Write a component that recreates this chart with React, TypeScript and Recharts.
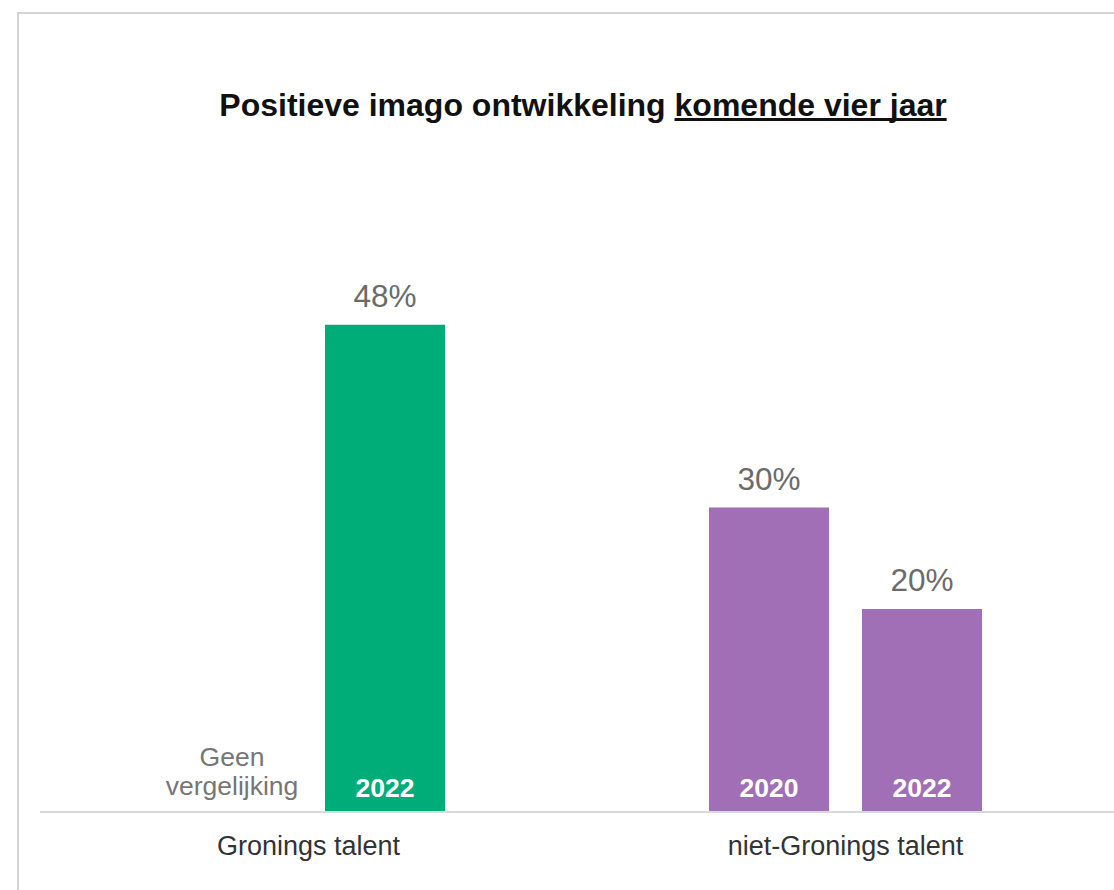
import React from 'react';
import { BarChart, Bar, XAxis, YAxis, Cell, LabelList } from 'recharts';

// categories and values (percent)
const categories = ['Gronings talent', 'niet-Gronings talent'];
const firstValues = [0, 30]; // 2020 (no comparison for Gronings)
const secondValues = [48, 20]; // 2022
const firstYears = ['', '2020'];
const secondYears = ['2022', '2022'];
const firstNotes = ['Geen vergelijking', ''];
const firstColors = ['transparent', '#a06fb6'];
const secondColors = ['#00ad78', '#a06fb6'];

const data = categories.map((name, i) => ({
  name,
  first: firstValues[i],
  second: secondValues[i],
  firstYear: firstYears[i],
  secondYear: secondYears[i],
  note: firstNotes[i],
}));

const FONT = '"Liberation Sans", Arial, sans-serif';

const pctLabel = (props: any) => {
  const { x, y, width, value } = props;
  if (!value) return null;
  return (
    <text x={x + width / 2} y={y - 18} textAnchor="middle" fontSize={31.5} fill="#6b6b6b" fontFamily={FONT}>
      {`${value}%`}
    </text>
  );
};

const yearLabel = (props: any) => {
  const { x, y, width, height, value } = props;
  if (!value) return null;
  return (
    <text x={x + width / 2} y={y + height - 15} textAnchor="middle" fontSize={26.5} fontWeight="bold" fill="#ffffff" fontFamily={FONT}>
      {value}
    </text>
  );
};

const noteLabel = (props: any) => {
  const { x, y, width, height, value } = props;
  if (!value) return null;
  const words = String(value).split(' ');
  const cx = x + width / 2;
  const bottom = y + height;
  return (
    <text textAnchor="middle" fontSize={26.5} fill="#767676" fontFamily={FONT}>
      <tspan x={cx} y={bottom - 46}>{words[0]}</tspan>
      <tspan x={cx} y={bottom - 17}>{words.slice(1).join(' ')}</tspan>
    </text>
  );
};

export default function App() {
  return (
    <div style={{ position: 'absolute', left: 0, top: 0, width: 1114, height: 890, background: '#fff', overflow: 'hidden' }}>
      <div
        style={{
          position: 'absolute',
          left: 17,
          top: 12,
          width: 1200,
          height: 1000,
          borderLeft: '2px solid #d4d4d4',
          borderTop: '2px solid #d4d4d4',
        }}
      />
      <div
        style={{
          position: 'absolute',
          left: 0,
          top: 87,
          width: 1166,
          textAlign: 'center',
          fontFamily: FONT,
          fontWeight: 'bold',
          fontSize: 32,
          color: '#111',
        }}
      >
        Positieve imago ontwikkeling{' '}
        <span style={{ textDecoration: 'underline', textDecorationSkipInk: 'none' as any }}>komende vier jaar</span>
      </div>
      <div style={{ position: 'absolute', left: 0, top: 0 }}>
        <BarChart
          width={1114}
          height={890}
          data={data}
          margin={{ top: 203, right: 0, bottom: 0, left: 40 }}
          barCategoryGap={132}
          barGap={33}
        >
          <XAxis
            dataKey="name"
            height={78}
            axisLine={{ stroke: '#d9d9d9', strokeWidth: 2 }}
            tickLine={false}
            tick={{ fontSize: 27, fill: '#333', fontFamily: FONT }}
            tickMargin={18}
          />
          <YAxis hide domain={[0, 60]} />
          <Bar dataKey="first" minPointSize={1} isAnimationActive={false}>
            {data.map((d, i) => (
              <Cell key={d.name} fill={firstColors[i]} />
            ))}
            <LabelList dataKey="first" content={pctLabel} />
            <LabelList dataKey="firstYear" content={yearLabel} />
            <LabelList dataKey="note" content={noteLabel} />
          </Bar>
          <Bar dataKey="second" isAnimationActive={false}>
            {data.map((d, i) => (
              <Cell key={d.name} fill={secondColors[i]} />
            ))}
            <LabelList dataKey="second" content={pctLabel} />
            <LabelList dataKey="secondYear" content={yearLabel} />
          </Bar>
        </BarChart>
      </div>
    </div>
  );
}
